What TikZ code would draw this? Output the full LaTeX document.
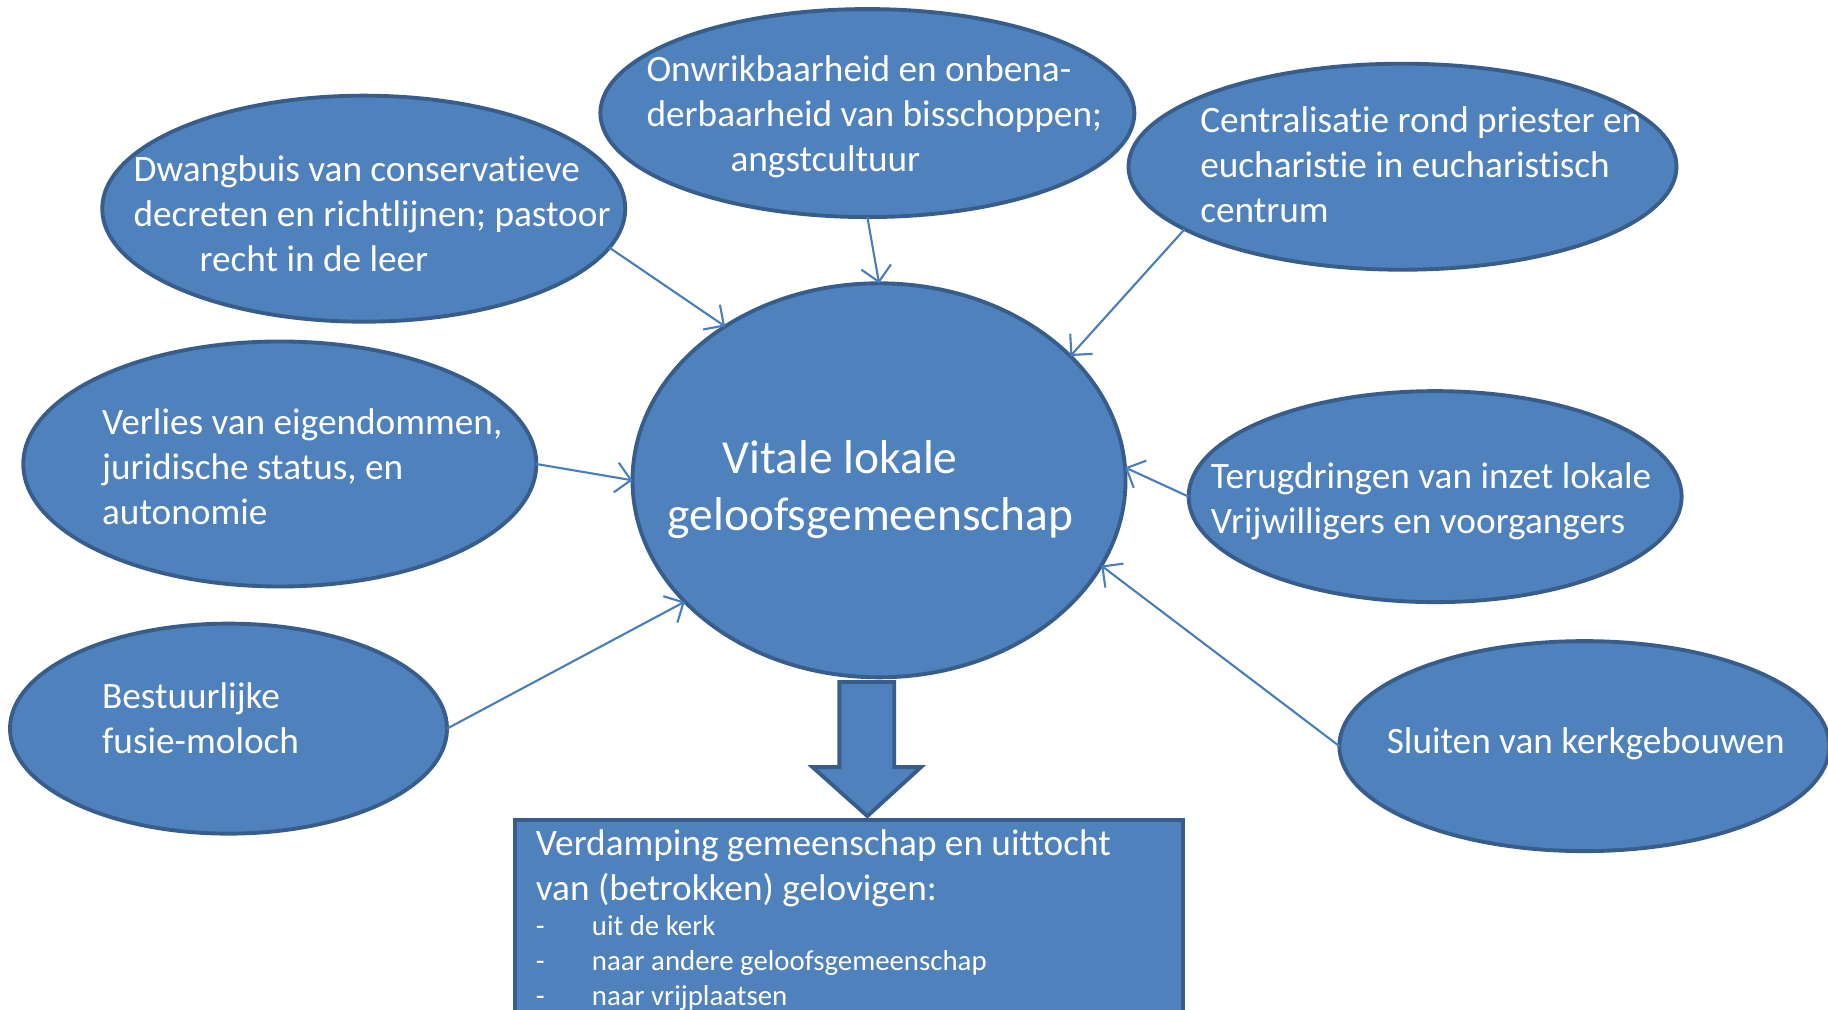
\documentclass[tikz,border=0pt]{standalone}
\usepackage{fontspec}
\setmainfont{Carlito}[Ligatures={NoCommon,NoContextual}]
\usetikzlibrary{shapes.geometric, arrows.meta}
\definecolor{bubblefill}{HTML}{4F81BD}
\definecolor{bubbleline}{HTML}{385D8A}
\definecolor{linkblue}{HTML}{4A7EBB}
\tikzset{
    bubble/.style={ellipse, draw=bubbleline, fill=bubblefill, line width=1.1pt, outer sep=0pt, inner sep=0pt},
    bubbletext/.style={anchor=west, align=left, text=white, inner sep=0pt, font=\fontsize{10.6}{12.8}\selectfont},
    resultbox/.style={rectangle, draw=bubbleline, fill=bubblefill, line width=1.1pt, text=white, align=flush left,
        text width=6.26cm, inner xsep=0.21cm, inner ysep=0.09cm, anchor=north west},
    link/.style={draw=linkblue, line width=0.6pt, -{Straight Barb[length=1.5mm, width=3mm]}}
}

\begin{document}
\begin{tikzpicture}[x=0.011658cm, y=-0.011658cm]
        \useasboundingbox (0,0) rectangle (1568,866);
        \fill[white] (0,0) rectangle (1568,866);
        \clip (0,0) rectangle (1568,866);
        %Bubbles
        \node[bubble, minimum width=5.23cm, minimum height=2.26cm] (dwang) at (312,179) {};
        \node[bubble, minimum width=5.34cm, minimum height=2.08cm] (onwrik) at (744,97) {};
        \node[bubble, minimum width=5.48cm, minimum height=2.06cm] (central) at (1203,143) {};
        \node[bubble, minimum width=5.13cm, minimum height=2.45cm] (verlies) at (240,398) {};
        \node[bubble, minimum width=4.37cm, minimum height=2.10cm] (fusie) at (196,625) {};
        \node[bubble, minimum width=4.93cm, minimum height=3.94cm] (vital) at (754,412) {};
        \node[bubble, minimum width=4.93cm, minimum height=2.11cm] (terug) at (1231,426) {};
        \node[bubble, minimum width=4.90cm, minimum height=2.10cm] (sluiten) at (1359,640) {};
        %Texts
        \node[bubbletext] (dwangT) at (114,183) {Dwangbuis van conservatieve\\decreten en richtlijnen; pastoor\\\hspace*{0.66cm}recht in de leer};
        \node[bubbletext] (onwrikT) at (554,100) {Onwrikbaarheid en onbena-\\derbaarheid van bisschoppen;\\\hspace*{0.84cm}angstcultuur};
        \node[bubbletext] (centralT) at (1029,141) {Centralisatie rond priester en\\eucharistie in eucharistisch\\centrum};
        \node[bubbletext] (verliesT) at (87,400) {Verlies van eigendommen,\\juridische status, en\\autonomie};
        \node[bubbletext] (fusieT) at (87,616) {Bestuurlijke\\fusie-moloch};
        \node[bubbletext, font=\fontsize{13.5}{16.3}\selectfont] (vitalT) at (572,420) {\hspace*{0.55cm}Vitale lokale\\geloofsgemeenschap};
        \node[bubbletext] (terugT) at (1038,430) {Terugdringen van inzet lokale\\Vrijwilligers en voorgangers};
        \node[bubbletext] (sluitenT) at (1189,638) {Sluiten van kerkgebouwen};
        %Result
        \node[resultbox] (result) at (440,702) {%
            {\fontsize{10.6}{12.8}\selectfont Verdamping gemeenschap en uittocht\\van (betrokken) gelovigen:\par}
            {\fontsize{8.2}{9.95}\selectfont
            \makebox[0.56cm][l]{-}uit de kerk\par
            \makebox[0.56cm][l]{-}naar andere geloofsgemeenschap\par
            \makebox[0.56cm][l]{-}naar vrijplaatsen\par}};
        \fill[bubblefill, draw=bubbleline, line width=1.1pt]
            (720,585) -- (767,585) -- (767,658) -- (790,658) -- (744,700) -- (697,658) -- (720,658) -- cycle;
        %Connectors
        \draw[link] (dwang.351) -- (vital.135);
        \draw[link] (onwrik.south) -- (vital.north);
        \draw[link] (central.196) -- (vital.33);
        \draw[link] (verlies.east) -- (vital.west);
        \draw[link] (fusie.east) -- (vital.212);
        \draw[link] (terug.west) -- (vital.3);
        \draw[link] (sluiten.west) -- (vital.339);
    \end{tikzpicture}
\end{document}
